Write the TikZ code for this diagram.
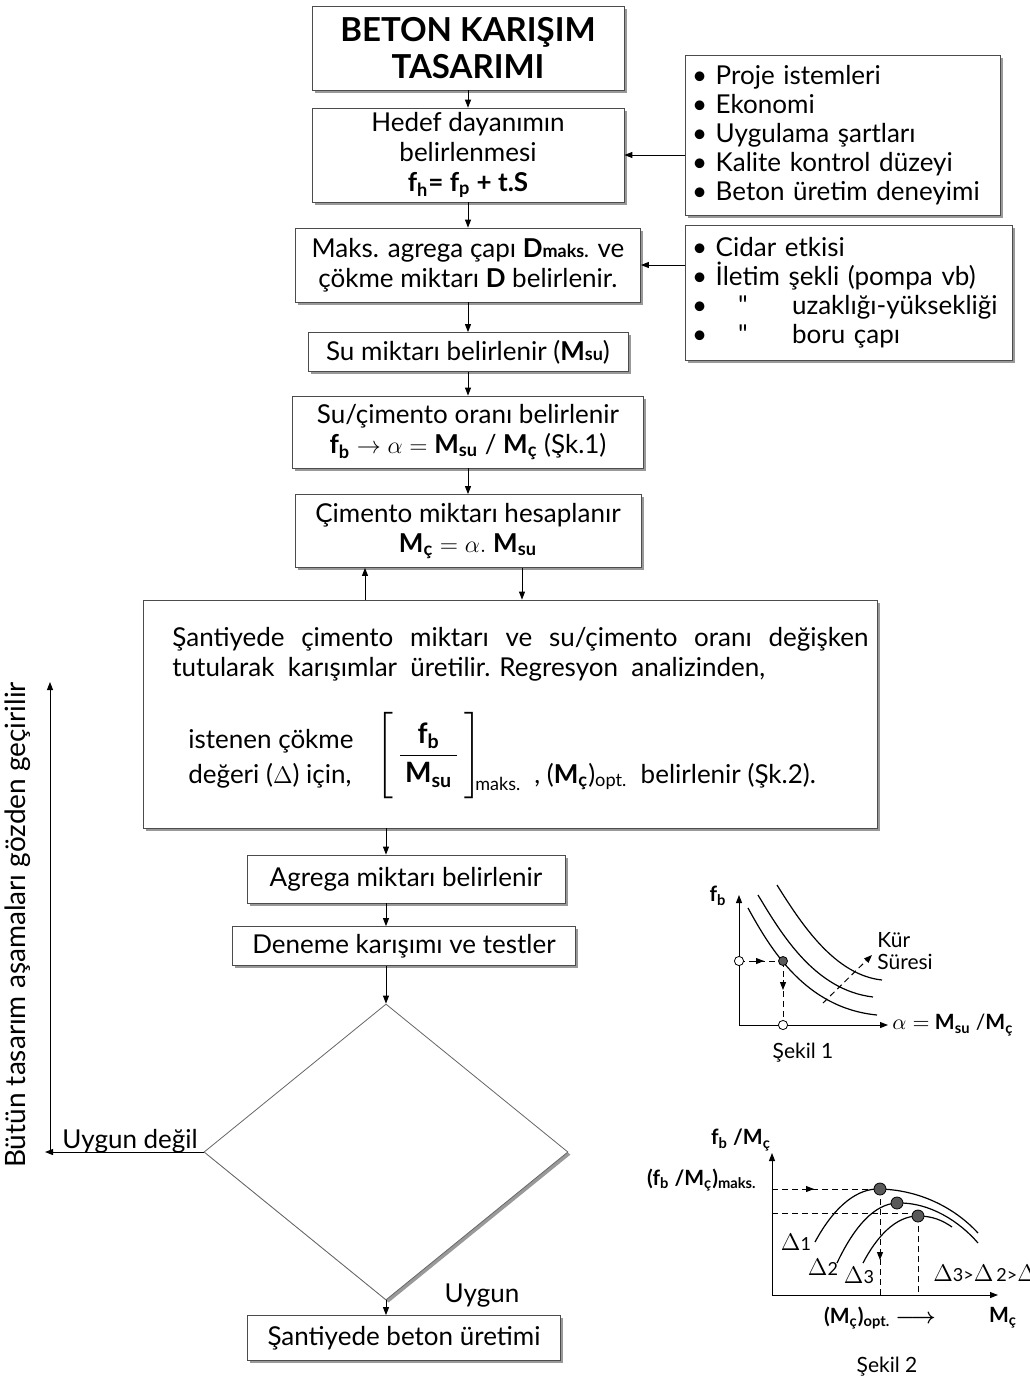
\documentclass[tikz,border=0pt]{standalone}
\usepackage{fontspec}
\usepackage{amsmath}
\setmainfont{Lato}
\newfontfamily\duzlato{Lato}[Ligatures=TeXOff]
\usetikzlibrary{arrows.meta, shapes.geometric, shadows}

\newcommand{\Msu}{\textbf{M}\textsubscript{\textbf{su}}}
\newcommand{\Mcm}{\textbf{M}\textsubscript{\textbf{ç}}}
\newcommand{\fb}{\textbf{f}\textsubscript{\textbf{b}}}
\newcommand{\tirnak}{\makebox[21pt][l]{•}\makebox[29pt][l]{\hspace{2pt}{\duzlato"}}}

\begin{document}
\begin{tikzpicture}[
        x=0.5pt, y=-0.5pt,
        box/.style={rectangle, draw=black!70, line width=0.4pt, fill=white, align=center,
                    inner sep=2pt, font=\fontsize{13}{15}\selectfont,
                    drop shadow={shadow xshift=1.3pt, shadow yshift=-1.3pt, fill=black!40, opacity=1}},
        liste/.style={box, align=left, inner sep=3.5pt, font=\fontsize{13}{14.5}\selectfont},
        metin/.style={inner sep=0pt, font=\fontsize{13}{15}\selectfont},
        etiket/.style={inner sep=0pt, font=\fontsize{10.5}{11}\selectfont},
        arrow/.style={-{Triangle[length=4pt, width=3pt]}, line width=0.5pt},
        kesik/.style={dashed, dash pattern=on 3pt off 2pt, line width=0.5pt},
        nokta/.style={circle, draw=black, fill=black!65, inner sep=0pt, minimum size=6pt}
      ]
      \useasboundingbox (0,0) rectangle (1029,1388);

      % --- Ana akis kutulari ---
      \node (title) [box, minimum width=156pt, minimum height=42pt,
                     font=\fontsize{16.5}{18.5}\selectfont\bfseries] at (468,48) {BETON KARIŞIM\\TASARIMI};
      \node (hedef) [box, minimum width=156pt, minimum height=45pt] at (468,155)
            {Hedef dayanımın\\belirlenmesi\\\textbf{f\textsubscript{h}= f\textsubscript{p} + t.S}};
      \node (maks) [box, minimum width=172.5pt, minimum height=37pt] at (468,265)
            {Maks. agrega çapı \textbf{D}{\fontsize{9}{10}\selectfont\bfseries maks.} ve\\çökme miktarı \textbf{D} belirlenir.};
      \node (su) [box, minimum width=160pt, minimum height=19.5pt] at (468,352)
            {Su miktarı belirlenir (\textbf{M}{\fontsize{9}{10}\selectfont\bfseries su})};
      \node (oran) [box, minimum width=175.5pt, minimum height=36pt] at (468,432)
            {Su/çimento oranı belirlenir\\\fb{} $\rightarrow \alpha =$ \Msu{} / \Mcm{} (Şk.1)};
      \node (cimento) [box, minimum width=173pt, minimum height=36.5pt] at (468,531)
            {Çimento miktarı hesaplanır\\\Mcm{} $= \alpha.$ \Msu};

      % Regresyon kutusu
      \node (santiyede) [box, minimum width=367pt, minimum height=114pt] at (510,714) {};
      \node (satir1) [metin, anchor=base west] at (172,646)
            {\makebox[348pt][s]{Şantiyede çimento miktarı ve su/çimento oranı değişken}};
      \node (satir2) [metin, anchor=base west] at (172,676)
            {tutularak\ \ karışımlar\ \ üretilir. Regresyon\ \ analizinden,};
      \node (istenen) [metin, anchor=base west] at (188,748) {istenen çökme};
      \node (degeri) [metin, anchor=base west] at (188,783) {değeri ($\Delta$) için,};
      \node (kesir) [metin, anchor=base west, font=\fontsize{14}{16}\selectfont] at (376,763)
            {$\left[\rule[-19pt]{0pt}{44pt}\,\dfrac{\text{\fb}}{\text{\,\Msu\,}}\,\right]$};
      \node (kesirmaks) [metin, anchor=base west, font=\fontsize{9}{10}\selectfont] at (475,790) {maks.};
      \node (belirlenir) [metin, anchor=base west] at (534,783)
            {, (\Mcm)\textsubscript{opt.}\ \ belirlenir (Şk.2).};

      \node (agrega) [box, minimum width=159pt, minimum height=24pt] at (406,879) {Agrega miktarı belirlenir};
      \node (deneme) [box, minimum width=171.5pt, minimum height=19.5pt] at (404,946) {Deneme karışımı ve testler};
      \node (karar) [diamond, draw=black!60, line width=0.4pt, fill=white, inner sep=0pt,
                     minimum width=182pt, minimum height=148pt,
                     drop shadow={shadow xshift=1.3pt, shadow yshift=-1.3pt, fill=black!40, opacity=1}] at (386,1152) {};
      \node (uretim) [box, minimum width=156.5pt, minimum height=22.5pt] at (404,1338) {Şantiyede beton üretimi};

      % --- Sag taraftaki listeler ---
      \node (liste1) [liste, minimum width=157.5pt, minimum height=80pt, text width=150.5pt] at (842.5,135)
            {• Proje istemleri\\• Ekonomi\\• Uygulama şartları\\• Kalite kontrol düzeyi\\• Beton üretim deneyimi};
      \node (liste2) [liste, minimum width=163.5pt, minimum height=67.5pt, text width=156.5pt] at (848.5,292.5)
            {• Cidar etkisi\\• İletim şekli (pompa vb)\\\tirnak uzaklığı-yüksekliği\\\tirnak boru çapı};

      % --- Oklar ---
      \coordinate (geri) at (365,0);
      \coordinate (ileri) at (522,0);
      \coordinate (sol) at (45,0);
      \coordinate (solust) at (50,682);
      \draw [arrow] (title) -- (hedef);
      \draw [arrow] (hedef) -- (maks);
      \draw [arrow] (maks) -- (su);
      \draw [arrow] (su) -- (oran);
      \draw [arrow] (oran) -- (cimento);
      \draw [arrow] (santiyede.north -| geri) -- (cimento.south -| geri);
      \draw [arrow] (cimento.south -| ileri) -- (santiyede.north -| ileri);
      \draw [arrow] (santiyede.south -| karar) -- (agrega.north -| karar);
      \draw [arrow] (agrega.south -| karar) -- (deneme.north -| karar);
      \draw [arrow] (deneme.south -| karar) -- (karar.north);
      \draw [arrow] (karar.south) -- (uretim.north -| karar);
      \draw [arrow] (karar.west) -- (karar.west -| sol);
      \draw [arrow] (karar.west -| solust) -- (solust);
      \draw [arrow] (liste1.west |- hedef) -- (hedef.east);
      \draw [arrow] (liste2.west |- maks) -- (maks.east);

      \node (uygundegil) [metin, anchor=base west] at (62,1148) {Uygun değil};
      \node (uygun) [metin] at (482,1296) {Uygun};
      \node (gozden) [metin, rotate=90, font=\fontsize{14}{16}\selectfont] at (18,925) {Bütün tasarım aşamaları gözden geçirilir};

      % --- Sekil 1 ---
      \coordinate (o1) at (739,1025);
      \draw [arrow] (o1) -- (739,895);
      \draw [arrow] (o1) -- (888,1025);
      \draw [line width=0.6pt] (748,908) .. controls (770,948) and (805,1008) .. (877,1015);
      \draw [line width=0.6pt] (758,895) .. controls (782,935) and (815,990) .. (873,997);
      \draw [line width=0.6pt] (777,885) .. controls (802,925) and (835,975) .. (882,980);
      \draw [kesik] (739,961) -- (783,961);
      \draw [arrow] (755,961) -- (764,961);
      \draw [kesik] (783,961) -- (783,1025);
      \draw [arrow] (783,980) -- (783,990);
      \draw [kesik, -{Triangle[length=4pt, width=3pt]}] (823,1003) -- (872,955);
      \draw [fill=white] (739,961) circle [radius=2.3pt];
      \draw [fill=white] (783,1025) circle [radius=2.3pt];
      \node (d0) [nokta, minimum size=4.5pt] at (783,961) {};
      \node (fb1) [etiket, font=\fontsize{10.5}{11}\selectfont\bfseries] at (718,896) {f\textsubscript{b}};
      \node (alfa) [etiket, anchor=west] at (892,1025) {$\alpha =$ \Msu{} /\Mcm};
      \node (kur) [etiket, anchor=west, align=left] at (877,951) {Kür\\Süresi};
      \node (sekil1) [etiket] at (803,1053) {Şekil 1};

      % --- Sekil 2 ---
      \coordinate (o2) at (772,1295);
      \draw [arrow] (o2) -- (772,1153);
      \draw [arrow] (o2) -- (998,1295);
      \draw [kesik] (772,1189) -- (880,1189);
      \draw [arrow] (805,1189) -- (814,1189);
      \draw [kesik] (772,1213) -- (918,1213);
      \draw [kesik] (880,1189) -- (880,1295);
      \draw [arrow] (880,1250) -- (880,1260);
      \draw [kesik] (918,1216) -- (918,1295);
      \draw [line width=0.6pt] (815,1242) .. controls (835,1205) and (858,1188) .. (880,1189)
                               .. controls (920,1190) and (955,1208) .. (978,1233);
      \draw [line width=0.6pt] (837,1263) .. controls (855,1225) and (875,1204) .. (897,1203)
                               .. controls (930,1202) and (960,1222) .. (978,1243);
      \draw [line width=0.6pt] (863,1263) .. controls (877,1236) and (896,1216) .. (918,1216)
                               .. controls (932,1216) and (942,1220) .. (952,1227);
      \node (d1) [nokta] at (880,1189) {};
      \node (d2) [nokta] at (897,1203) {};
      \node (d3) [nokta] at (918,1216) {};
      \node (fbmc) [etiket, font=\fontsize{10.5}{11}\selectfont\bfseries] at (741,1140) {f\textsubscript{b} /M\textsubscript{ç}};
      \node (fbmcmaks) [etiket, anchor=east, font=\fontsize{10.5}{11}\selectfont\bfseries] at (757,1180)
            {(f\textsubscript{b} /M\textsubscript{ç})\textsubscript{maks.}};
      \node (del1) [etiket, font=\fontsize{12}{13}\selectfont] at (796,1242) {$\Delta${\small 1}};
      \node (del2) [etiket, font=\fontsize{12}{13}\selectfont] at (823,1267) {$\Delta${\small 2}};
      \node (del3) [etiket, font=\fontsize{12}{13}\selectfont] at (859,1275) {$\Delta${\small 3}};
      \node (sira) [etiket, anchor=west, font=\fontsize{12}{13}\selectfont] at (933,1273)
            {$\Delta${\small 3>}$\Delta${\small\,2>}$\Delta$};
      \node (mcopt) [etiket, font=\fontsize{10.5}{11}\selectfont\bfseries] at (880,1318) {(M\textsubscript{ç})\textsubscript{opt.} $\boldsymbol{\longrightarrow}$};
      \node (mc) [etiket, font=\fontsize{10.5}{11}\selectfont\bfseries] at (1003,1318) {M\textsubscript{ç}};
      \node (sekil2) [etiket] at (887,1367) {Şekil 2};

    \end{tikzpicture}
\end{document}
